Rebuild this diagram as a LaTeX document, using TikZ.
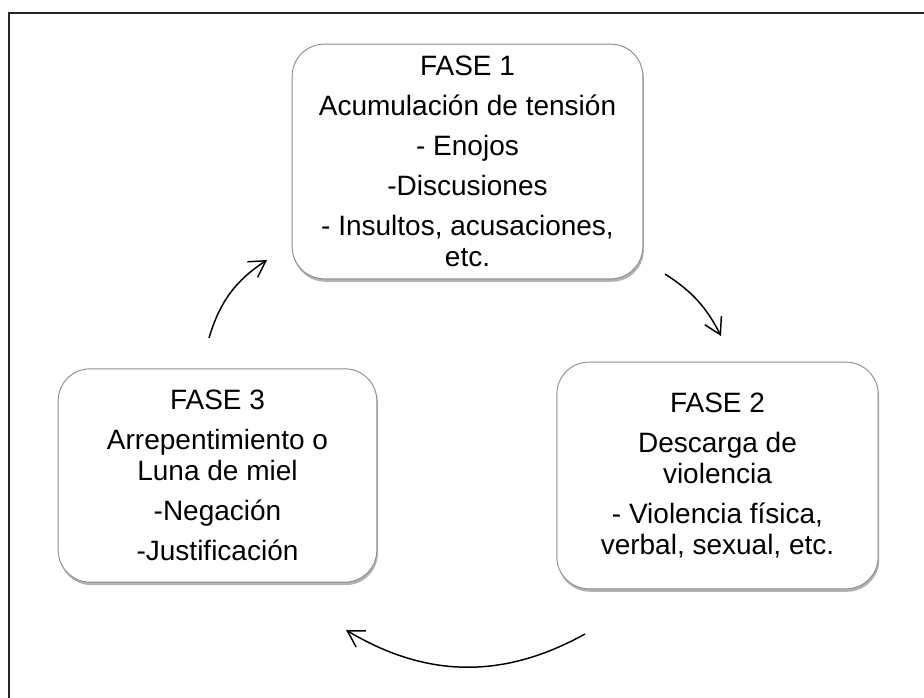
\documentclass[tikz,border=0pt]{standalone}
\usepackage{fontspec}
\setmainfont{Liberation Sans}
\usetikzlibrary{arrows.meta,shadows}

\begin{document}
\begin{tikzpicture}[x=0.75pt,y=0.75pt,
  fase/.style={draw=gray!90, line width=0.7pt, fill=white, rounded corners=24pt,
    align=center, inner sep=0pt, font=\fontsize{21}{23}\selectfont,
    drop shadow={shadow xshift=0.8pt, shadow yshift=-2.2pt, opacity=0.3, fill=black}},
  ciclo/.style={line width=1.1pt, -{Straight Barb[length=12pt,width=14pt,line width=1.1pt]}}]
\useasboundingbox (0,0) rectangle (924,698);
\clip (0,0) rectangle (924,698);
\draw[line width=1.3pt, black!85] (9,-20) rectangle (950,685);

\node[fase, minimum width=263pt, minimum height=176pt] (f1) at (467.5,536.5)
  {FASE 1\\[7pt] Acumulación de tensión\\[7pt] - Enojos\\[7pt] -Discusiones\\[7pt] - Insultos, acusaciones,\\ etc.};
\node[fase, minimum width=241pt, minimum height=170pt] (f2) at (717.5,222.5)
  {FASE 2\\[7pt] Descarga de\\ violencia\\[7pt] - Violencia física,\\ verbal, sexual, etc.};
\node[fase, minimum width=239pt, minimum height=160pt] (f3) at (217.5,222.5)
  {FASE 3\\[7pt] Arrepentimiento o\\ Luna de miel\\[7pt] -Negación\\[7pt] -Justificación};

% extremos de las flechas del ciclo
\coordinate (a1) at (665,424); \coordinate (b1) at (721,362);
\coordinate (a2) at (585,64);  \coordinate (b2) at (346,68);
\coordinate (a3) at (209,360); \coordinate (b3) at (267,438);
\foreach \s/\e/\b in {a1/b1/15, a2/b2/30, a3/b3/20}
  \draw[ciclo] (\s) to[bend left=\b] (\e);
\end{tikzpicture}
\end{document}
